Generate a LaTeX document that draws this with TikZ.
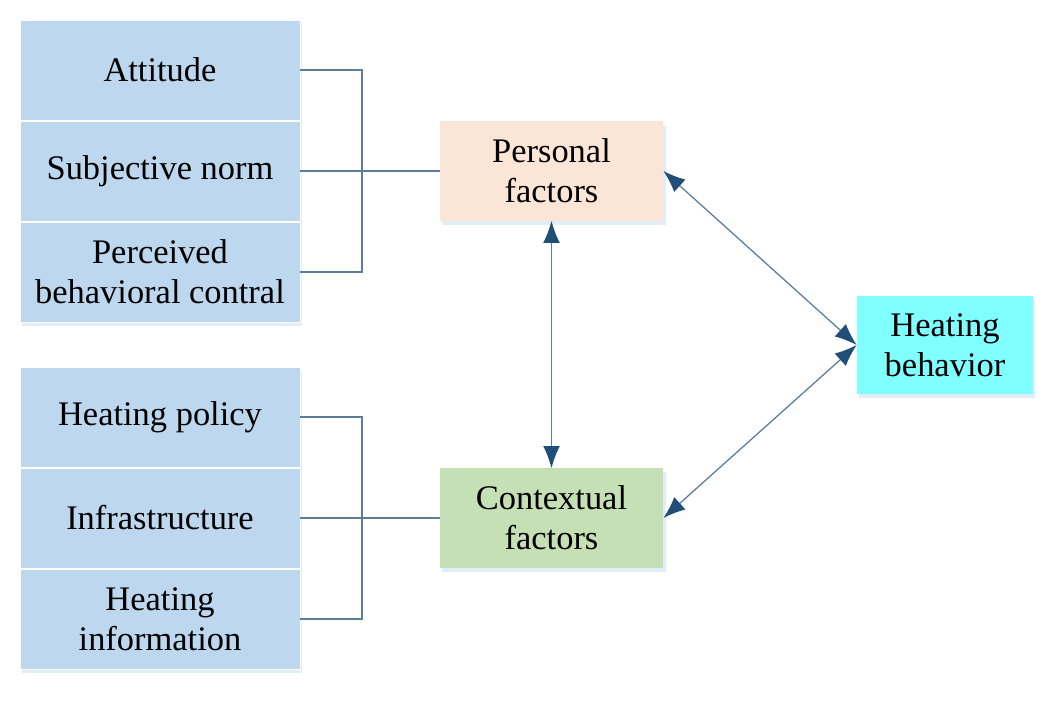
\documentclass[tikz,border=0pt]{standalone}
\usepackage{fontspec}
\setmainfont{Liberation Serif}
\usetikzlibrary{arrows.meta,shadows}
\definecolor{itemblue}{HTML}{BDD7EE}
\definecolor{persorange}{HTML}{FBE5D6}
\definecolor{contgreen}{HTML}{C5E0B4}
\definecolor{behavcyan}{HTML}{80FFFF}
\definecolor{linkblue}{HTML}{5B7C9D}
\definecolor{tipblue}{HTML}{1F4E79}
\tikzset{
  box/.style={minimum width=7cm,minimum height=2.5cm,inner sep=0pt,align=center,
    font=\fontsize{24.5}{28.5}\selectfont,
    drop shadow={shadow xshift=0.06cm,shadow yshift=-0.1cm,fill=itemblue,opacity=0.45}},
  item/.style={box,fill=itemblue,draw=white,line width=0.6pt},
  factor/.style={box,minimum width=5.58cm,minimum height=2.48cm},
  link/.style={linkblue,line width=0.9pt},
  twoway/.style={link,{Latex[length=5.5mm,width=4.2mm,color=tipblue]}-{Latex[length=5.5mm,width=4.2mm,color=tipblue]}}
}
\begin{document}
\begin{tikzpicture}[x=0.025cm,y=-0.025cm]
\useasboundingbox (0,0) rectangle (1047,703);
% personal items
\node[item] (att) at (160,70) {Attitude};
\node[item] (sub) at (160,171) {Subjective norm};
\node[item] (pbc) at (160,272) {Perceived\\behavioral contral};
% contextual items
\node[item] (pol) at (160,417) {Heating policy};
\node[item] (inf) at (160,518) {Infrastructure};
\node[item] (inform) at (160,619) {Heating\\information};
% factors
\node[factor,fill=persorange] (pers) at (551.5,171) {Personal\\factors};
\node[factor,fill=contgreen] (cont) at (551.5,518) {Contextual\\factors};
\node[box,fill=behavcyan,minimum width=4.4cm,minimum height=2.45cm] (heat) at (945,345) {Heating\\behavior};
% brackets
\coordinate (bt) at (362,70);
\coordinate (bb) at (362,417);
\draw[link] (att.east) -- (bt) |- (pbc.east);
\draw[link] (sub.east) -- (pers.west);
\draw[link] (pol.east) -- (bb) |- (inform.east);
\draw[link] (inf.east) -- (cont.west);
% arrows
\draw[twoway] (pers.south) -- (cont.north);
\draw[twoway] (pers.east) -- (heat.west);
\draw[twoway] (cont.east) -- (heat.west);
\end{tikzpicture}
\end{document}
